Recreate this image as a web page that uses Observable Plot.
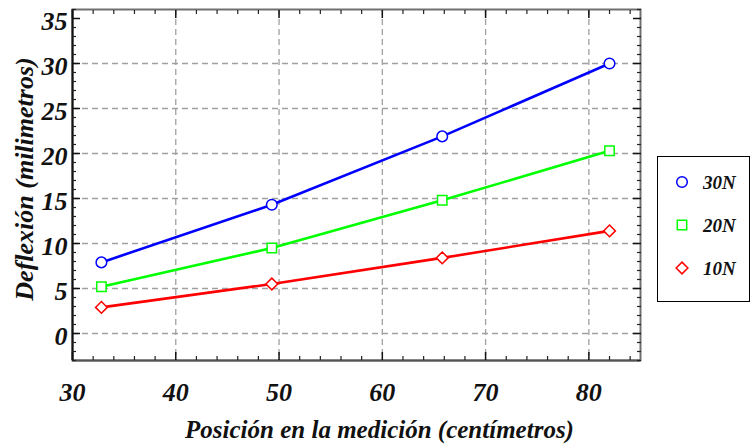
<!DOCTYPE html>
<html><head><meta charset="utf-8">
<script src="https://cdn.jsdelivr.net/npm/d3@7"></script>
<script src="https://cdn.jsdelivr.net/npm/@observablehq/plot@0.6"></script>
<style>
body{margin:0;background:#fff;}
#wrap{position:relative;width:751px;height:444px;overflow:hidden;}
#legend{position:absolute;left:657px;top:156px;width:93px;height:146px;border:1.5px solid #000;box-sizing:border-box;background:#fff;}
#legend svg{display:block;}
</style></head><body><div id="wrap"><div id="chart"></div><div id="legend"></div></div>
<script>
const positions = [32.8, 49.3, 65.8, 82];
const series = ["30N", "20N", "10N"];
const values30 = [7.9, 14.3, 21.9, 30.0];
const values20 = [5.2, 9.5, 14.8, 20.3];
const values10 = [2.9, 5.5, 8.4, 11.4];
const colors = ["#0000ff", "#00ff00", "#ff0000"];
const symbols = ["circle", "square", "diamond2"];
const xTicks = [30, 40, 50, 60, 70, 80];
const yTicks = [0, 5, 10, 15, 20, 25, 30, 35];
const xGrid = [40, 50, 60, 70, 80];
const yGrid = [0, 5, 10, 15, 20, 25, 30];
const xLabel = "Posición en la medición (centímetros)";
const yLabel = "Deflexión (milimetros)";

const seriesValues = [values30, values20, values10];
const data = [];
series.forEach((s, i) => positions.forEach((p, j) => data.push({series: s, x: p, y: seriesValues[i][j]})));

const xMinor = d3.range(30, 86, 2).filter(v => v % 10 !== 0);
const yMinor = d3.range(-3, 37, 1).filter(v => v % 5 !== 0);
const blank = () => "";
const font = "Liberation Serif";

const plot = Plot.plot({
  width: 751, height: 444,
  marginLeft: 72, marginRight: 111, marginTop: 9, marginBottom: 84,
  x: {domain: [30, 85]},
  y: {domain: [-3, 36]},
  color: {domain: series, range: colors},
  symbol: {domain: series, range: symbols},
  style: {background: "#fff", color: "#111"},
  marks: [
    Plot.gridX(xGrid, {stroke: "#a0a0a0", strokeOpacity: 1, strokeWidth: 1.3, strokeDasharray: "6,4"}),
    Plot.gridY(yGrid, {stroke: "#a0a0a0", strokeOpacity: 1, strokeWidth: 1.3, strokeDasharray: "6,4"}),
    Plot.frame({stroke: "#707070", strokeWidth: 2}),
    Plot.ruleX([30], {stroke: "#111", strokeWidth: 2}),
    Plot.ruleY([-3], {stroke: "#555", strokeWidth: 2}),
    Plot.axisX(xTicks, {anchor: "bottom", tickSize: -8, tickFormat: blank, label: null, stroke: "#111", strokeWidth: 1.5}),
    Plot.axisX(xMinor, {anchor: "bottom", tickSize: -4, tickFormat: blank, label: null, stroke: "#222", strokeWidth: 1.2}),
    Plot.axisX(xTicks, {anchor: "top", tickSize: -8, tickFormat: blank, label: null, stroke: "#111", strokeWidth: 1.5}),
    Plot.axisX(xMinor, {anchor: "top", tickSize: -4, tickFormat: blank, label: null, stroke: "#222", strokeWidth: 1.2}),
    Plot.axisY(yTicks, {anchor: "left", tickSize: -8, tickFormat: blank, label: null, stroke: "#111", strokeWidth: 1.5}),
    Plot.axisY(yMinor, {anchor: "left", tickSize: -4, tickFormat: blank, label: null, stroke: "#222", strokeWidth: 1.2}),
    Plot.axisY(yTicks, {anchor: "right", tickSize: -8, tickFormat: blank, label: null, stroke: "#111", strokeWidth: 1.5}),
    Plot.axisY(yMinor, {anchor: "right", tickSize: -4, tickFormat: blank, label: null, stroke: "#222", strokeWidth: 1.2}),
    Plot.axisX(xTicks, {anchor: "bottom", tickSize: 0, tickPadding: 32, lineAnchor: "middle", fontSize: 26, label: null}),
    Plot.axisY(yTicks, {anchor: "left", tickSize: 0, tickPadding: 5, fontSize: 26, label: null, dy: 3}),
    Plot.text([xLabel], {frameAnchor: "bottom", dy: 69, dx: 23, fontSize: 25, fill: "#111", lineAnchor: "middle", textAnchor: "middle", text: d => d}),
    Plot.text([yLabel], {frameAnchor: "left", dx: -48, dy: -6, rotate: -90, fontSize: 26, fill: "#111", textAnchor: "middle", text: d => d}),
    Plot.line(data, {x: "x", y: "y", z: "series", stroke: "series", strokeWidth: 2.6}),
    Plot.dot(data, {x: "x", y: "y", stroke: "series", symbol: "series", r: 5.3, fill: "#fff", strokeWidth: 1.5})
  ]
});
function forceFont(root) {
  root.querySelectorAll("text, tspan").forEach(t => {
    t.setAttribute("font-family", font);
    t.setAttribute("font-weight", "bold");
    t.setAttribute("font-style", "italic");
    t.style.setProperty("font-family", "'Liberation Serif'", "important");
    t.style.setProperty("font-weight", "700", "important");
    t.style.setProperty("font-style", "italic", "important");
  });
}
forceFont(plot);
document.getElementById("chart").appendChild(plot);

const leg = d3.select("#legend").append("svg").attr("width", 90).attr("height", 143);
const rowsY = [25, 68, 111];
series.forEach((s, i) => {
  const sym = d3.symbol(i === 0 ? d3.symbolCircle : i === 1 ? d3.symbolSquare : d3.symbolDiamond2, Math.PI * 5.3 * 5.3);
  leg.append("path").attr("d", sym()).attr("transform", `translate(24,${rowsY[i]})`)
    .attr("fill", "#fff").attr("stroke", colors[i]).attr("stroke-width", 1.5);
  leg.append("text").attr("x", 45).attr("y", rowsY[i]).attr("dy", "0.35em")
    .attr("font-size", 19).attr("fill", "#111").text(s);
});
forceFont(document.getElementById("legend"));
</script>
</body></html>
